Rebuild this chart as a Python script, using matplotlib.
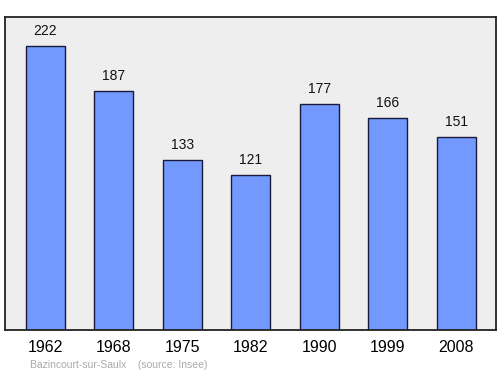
import matplotlib.pyplot as plt

years = ['1962', '1968', '1975', '1982', '1990', '1999', '2008']
population = [222, 187, 133, 121, 177, 166, 151]

plt.rcParams['font.family'] = ['Liberation Sans', 'DejaVu Sans']

fig = plt.figure(figsize=(5, 3.74), dpi=100)
ax = fig.add_axes([5 / 500, 1 - 330 / 374, 491 / 500, 313 / 374])
ax.set_facecolor('#eeeeee')

x = range(len(years))
ax.bar(x, population, width=0.57, color='#7399ff', edgecolor='#1a1a3a', linewidth=1)
for i, v in zip(x, population):
    ax.text(i, v + 6.5, str(v), ha='center', va='bottom', fontsize=10, color='#111111')

ax.set_xlim(-0.59, 6.58)
ax.set_ylim(0, 245)
ax.set_yticks([])
ax.set_xticks(list(x))
ax.set_xticklabels(years, fontsize=11.5)
ax.tick_params(axis='x', length=0, pad=7)
for s in ax.spines.values():
    s.set_linewidth(1.3)
    s.set_color('#222222')

fig.text(30 / 500, 1 - 365 / 374, 'Bazincourt-sur-Saulx    (source: Insee)',
         fontsize=7.5, color='#aaaaaa', ha='left', va='center')

fig.savefig('out.png', dpi=100)
